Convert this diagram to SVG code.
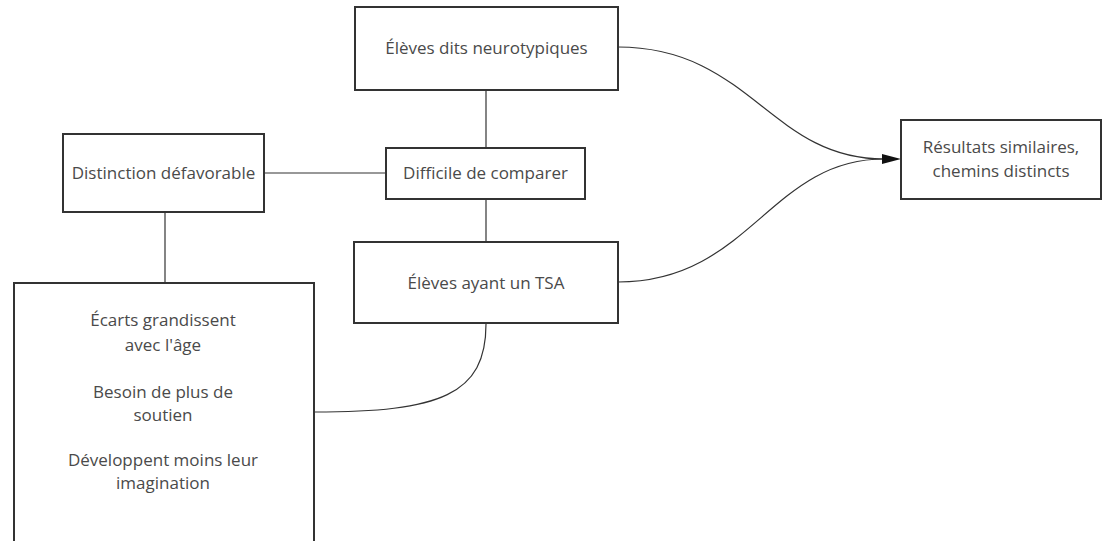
<svg xmlns="http://www.w3.org/2000/svg" width="1103" height="541" viewBox="0 0 1103 541">
<style>
.box{fill:#fff;stroke:#333;stroke-width:2}
.t{font-family:"Open Sans",sans-serif;font-size:17px;fill:#4a4a4a;text-anchor:middle}
.c{fill:none;stroke:#333;stroke-width:1.2}
</style>
<rect width="1103" height="541" fill="#fff"/>
<g id="connectors">
<path class="c" d="M486,90 L486,148"/>
<path class="c" d="M486,199 L486,242"/>
<path class="c" d="M264,173 L386,173"/>
<path class="c" d="M165,212 L165,283"/>
<path class="c" d="M486,324 C486,395 440,412 314,412"/>
<path class="c" d="M618,47 C750,47 770,159 884,159"/>
<path class="c" d="M618,282 C750,282 770,159 884,159"/>
<path d="M882,154 L901,159 L882,164 z" fill="#111"/>
</g>
<g id="neurotypiques">
<rect class="box" x="355" y="7" width="263" height="83"/>
<text class="t" x="486.5" y="54">Élèves dits neurotypiques</text>
</g>
<g id="distinction">
<rect class="box" x="63" y="134" width="201" height="78"/>
<text class="t" x="163.5" y="179">Distinction défavorable</text>
</g>
<g id="difficile">
<rect class="box" x="386" y="148" width="199" height="51"/>
<text class="t" x="485.5" y="179">Difficile de comparer</text>
</g>
<g id="tsa">
<rect class="box" x="354" y="242" width="264" height="81"/>
<text class="t" x="486" y="289">Élèves ayant un TSA</text>
</g>
<g id="resultats">
<rect class="box" x="901" y="120" width="200" height="79"/>
<text class="t" x="1001" y="153">Résultats similaires,</text>
<text class="t" x="1001" y="177">chemins distincts</text>
</g>
<g id="ecarts">
<rect class="box" x="14" y="283" width="300" height="270"/>
<text class="t" x="163" y="326">Écarts grandissent</text>
<text class="t" x="163" y="351">avec l'âge</text>
<text class="t" x="163" y="398">Besoin de plus de</text>
<text class="t" x="163" y="421">soutien</text>
<text class="t" x="163" y="466">Développent moins leur</text>
<text class="t" x="163" y="489">imagination</text>
</g>
</svg>
